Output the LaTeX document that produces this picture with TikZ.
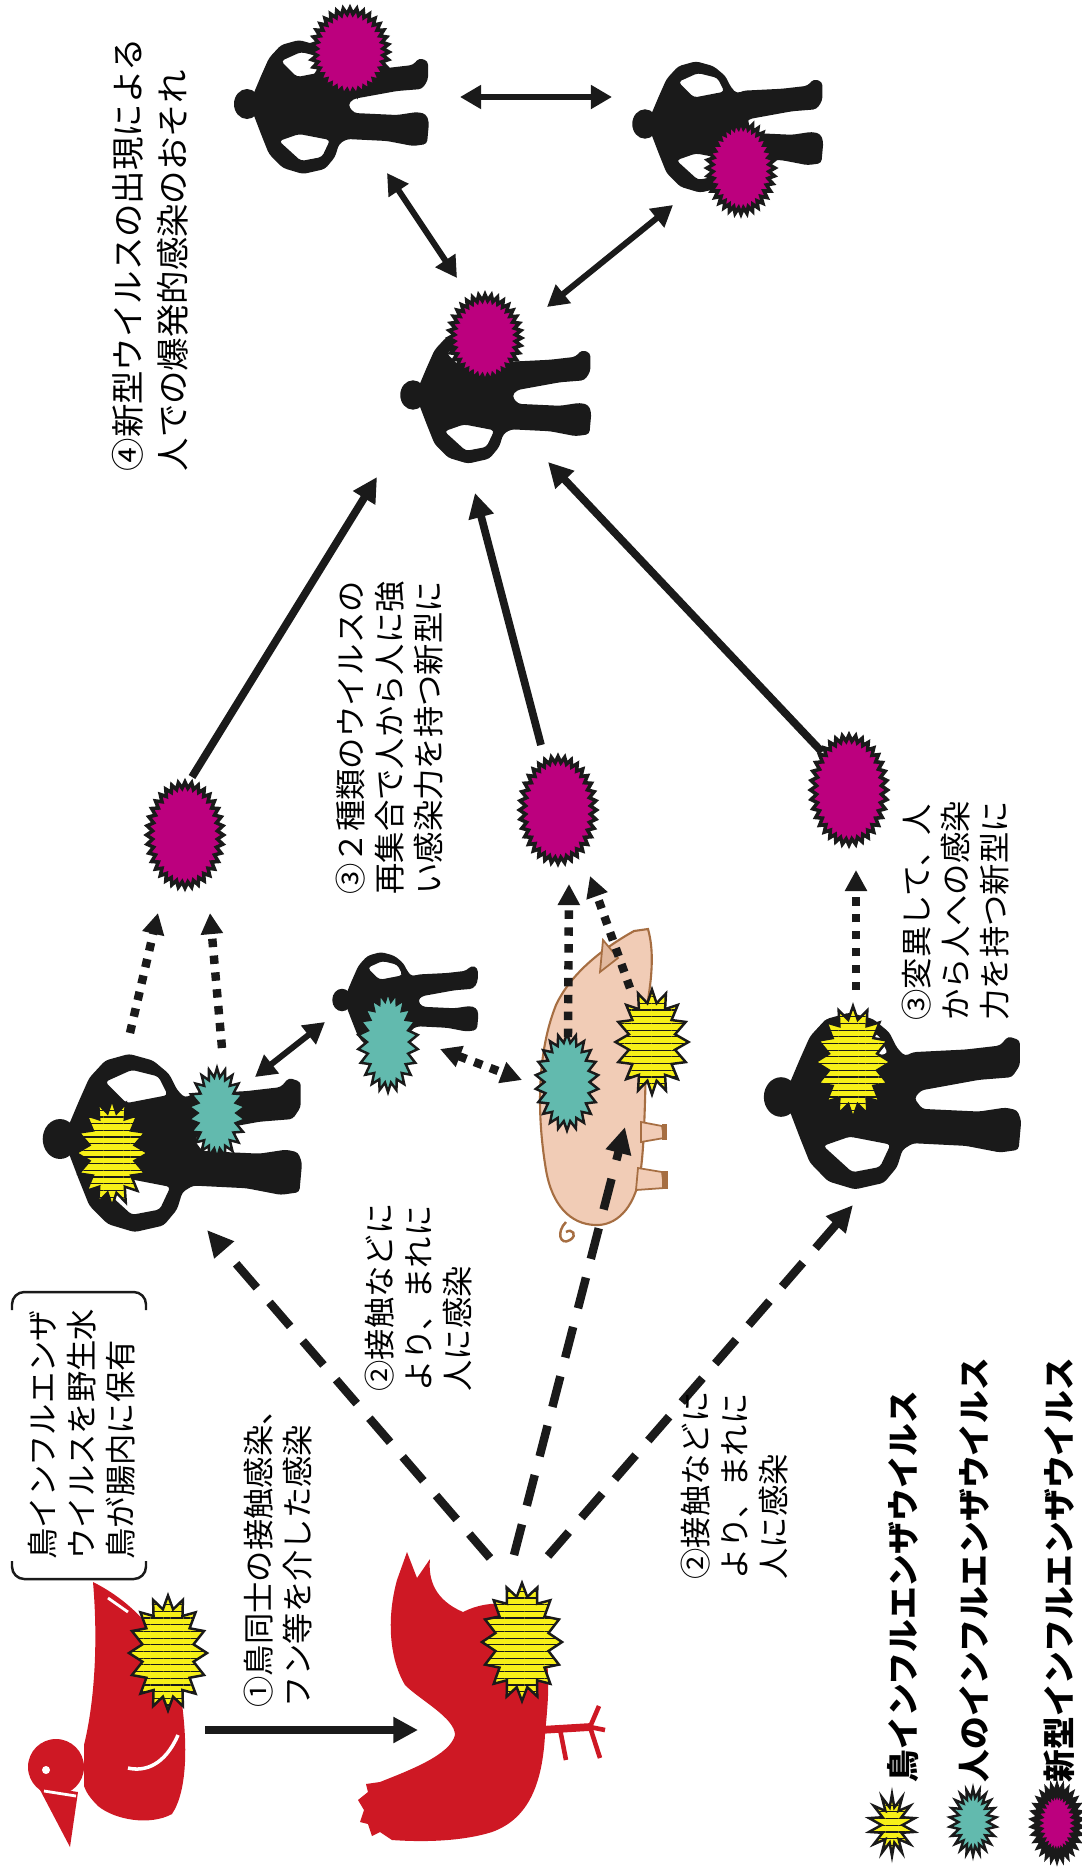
\documentclass[tikz,border=0pt]{standalone}
\usepackage{fontspec}
\setmainfont{Noto Sans CJK JP}
\usetikzlibrary{arrows.meta, shapes.symbols, patterns.meta}

\definecolor{birdred}{RGB}{206,24,36}
\definecolor{flucyan}{RGB}{98,186,174}
\definecolor{fluyellow}{RGB}{247,240,24}
\definecolor{flumagenta}{RGB}{188,0,126}
\definecolor{pigskin}{RGB}{241,204,182}
\definecolor{pigline}{RGB}{166,110,66}
\definecolor{ink}{RGB}{26,26,26}

% walking figure, head at the origin, feet towards +x
\tikzset{
  man/.pic={
    \fill [ink] (0,0) ellipse [x radius=13, y radius=15];
    \fill [ink, even odd rule, rounded corners=1pt]
      (6,-9) -- (14,-28) -- (22,-46) -- (34,-59) -- (52,-64) -- (70,-59)
      -- (82,-49) -- (88,-37) -- (94,-31) -- (100,-34) -- (140,-36)
      -- (166,-39) -- (172,-46) -- (181,-43) -- (181,-24) -- (175,-15)
      -- (150,-13) -- (106,-5) -- (101,1) -- (107,9) -- (150,11)
      -- (170,8) -- (179,10) -- (182,18) -- (180,40) -- (166,42)
      -- (140,37) -- (100,35) -- (92,40) -- (88,53) -- (78,65)
      -- (56,70) -- (36,64) -- (22,50) -- (14,30) -- (6,9) -- cycle
      (34,-43) -- (54,-52) -- (74,-47) -- (81,-33) -- (50,-27) -- cycle
      (32,37) -- (52,30) -- (83,36) -- (75,53) -- (54,57) -- cycle;
  }
}

\begin{document}
\begin{tikzpicture} [ x=0.01cm, y=-0.01cm
                    , font=\fontsize{8.9}{11.2}\selectfont
                    , note/.style={rotate=90, anchor=north west, align=left, inner sep=0pt}
                    , lead/.style={note, font=\fontsize{9.5}{12.8}\selectfont}
                    , legendtext/.style={note, font=\fontsize{9.3}{11}\selectfont\bfseries}
                    , germ/.style={starburst, random starburst=0, draw=ink, inner sep=0pt}
                    , bird/.style={germ, starburst points=16, starburst point height=0.13cm, line width=0.7pt, preaction={fill=fluyellow}, pattern={Lines[angle=0, distance=1.9pt, line width=0.35pt]}, pattern color=ink}
                    , human/.style={germ, starburst points=22, starburst point height=0.09cm, line width=0.7pt, fill=flucyan}
                    , novel/.style={germ, starburst points=36, starburst point height=0.06cm, line width=1pt, fill=flumagenta}
                    , spread/.style={ink, line width=2.2pt, -{Triangle[length=7pt, width=7pt]}}
                    , link/.style={ink, line width=1.7pt, >={Triangle[length=6pt, width=6.5pt]}, <->}
                    , hop/.style={ink, line width=2.4pt, dash pattern=on 2.4pt off 2.4pt, >={Triangle[length=6pt, width=6pt]}, ->}
                    , jump/.style={ink, line width=2.4pt, dash pattern=on 9pt off 5.5pt, -{Triangle[length=7.5pt, width=7pt]}}
                    ]

  \fill [white] (0,0) rectangle (1082,1872);
  \useasboundingbox (0,0) rectangle (1082,1872);

  % --- people ----------------------------------------------------------------
  \pic (manA) at (247,104) {man};
  \pic [scale=0.98] (manB) at (645,124) {man};
  \pic [scale=0.98] (manC) at (413,395) {man};
  \pic [scale=1.33] (manD) at (60,1139) {man};
  \pic [scale=0.75] (manE) at (342,1000) {man};
  \pic [scale=1.32] (manF) at (781,1097) {man};
  % ---------------------------------------------------------------------------

  % --- wild duck and hen -----------------------------------------------------
  \fill [birdred] (93,1582) .. controls (125,1598) and (165,1630) .. (180,1690)
        .. controls (188,1740) and (188,1790) .. (172,1814)
        .. controls (150,1826) and (115,1820) .. (98,1806)
        .. controls (90,1798) and (86,1792) .. (84,1786)
        -- (84,1745)
        .. controls (95,1700) and (98,1640) .. cycle;
  \fill [birdred] (56,1767) circle [radius=28];
  \fill [birdred] (38,1786) -- (70,1847) -- (78,1792) -- cycle;
  \fill [white] (46,1770) circle [radius=4];
  \draw [white, line width=0.8pt] (44,1791) -- (76,1796);
  \draw [white, line width=1pt] (178,1735) .. controls (165,1765) and (145,1772) .. (128,1768);
  \draw [white, line width=0.8pt] (108,1598) -- (128,1612);

  \fill [birdred] (407,1552) -- (417,1578) -- (430,1559)
        .. controls (428,1580) and (435,1600) .. (463,1612)
        .. controls (490,1598) and (530,1600) .. (541,1630)
        .. controls (552,1670) and (548,1700) .. (545,1735)
        .. controls (542,1790) and (525,1820) .. (492,1832)
        .. controls (460,1842) and (420,1842) .. (392,1840)
        -- (380,1832) -- (372,1836) -- (368,1824) -- (360,1822) -- (364,1810)
        -- (358,1800) -- (368,1792) -- (366,1784) -- (380,1782)
        .. controls (410,1770) and (450,1755) .. (455,1735)
        .. controls (455,1718) and (420,1700) .. (405,1685)
        .. controls (390,1660) and (386,1620) .. (397,1580)
        -- cycle;
  \draw [birdred, line width=2.2pt] (540,1730) -- (590,1727);
  \draw [birdred, line width=1.3pt] (590,1727) -- (599,1706)
                                    (590,1727) -- (605,1730)
                                    (590,1727) -- (600,1758)
                                    (560,1729) -- (566,1760);
  % ---------------------------------------------------------------------------

  % --- pig -------------------------------------------------------------------
  \filldraw [fill=pigskin, draw=pigline, line width=0.6pt]
        (634,931) -- (648,929) .. controls (654,950) and (652,975) .. (648,1000)
        .. controls (645,1060) and (646,1140) .. (640,1175)
        .. controls (634,1210) and (615,1226) .. (595,1225)
        .. controls (570,1224) and (552,1205) .. (546,1170)
        .. controls (536,1110) and (538,1050) .. (556,1005)
        .. controls (570,975) and (600,950) .. cycle;
  \filldraw [fill=pigskin!80!pigline, draw=pigline, line width=0.5pt] (600,972) -- (603,940) -- (618,958) -- cycle;
  \filldraw [fill=pigskin, draw=pigline, line width=0.5pt] (641,1122) -- (662,1126) -- (664,1138) -- (641,1142) -- cycle;
  \filldraw [fill=pigskin, draw=pigline, line width=0.5pt] (638,1168) -- (662,1172) -- (664,1188) -- (636,1190) -- cycle;
  \fill [pigline] (662,1124) rectangle (667,1140);
  \fill [pigline] (662,1171) rectangle (668,1189);
  \draw [pigline, line width=0.7pt] (566,1222) .. controls (556,1232) and (560,1246) .. (570,1240)
        .. controls (578,1235) and (572,1228) .. (566,1232);
  % ---------------------------------------------------------------------------

  % --- viruses ---------------------------------------------------------------
  \node [ novel
        , minimum width=0.78cm
        , minimum height=0.88cm
        ]
        (fluA) at (350,52) {};
  \node [ novel
        , minimum width=0.68cm
        , minimum height=0.92cm
        ]
        (fluB) at (741,168) {};
  \node [ novel
        , minimum width=0.73cm
        , minimum height=0.87cm
        ]
        (fluC) at (485,338) {};

  \node [ novel
        , minimum width=0.77cm
        , minimum height=1.06cm
        ]
        (newA) at (185,835) {};
  \node [ novel
        , minimum width=0.77cm
        , minimum height=1.07cm
        ]
        (newB) at (558,810) {};
  \node [ novel
        , minimum width=0.77cm
        , minimum height=1.1cm
        ]
        (newC) at (849,790) {};

  \node [ bird
        , minimum width=0.72cm
        , minimum height=1.07cm
        ]
        (birdD) at (112,1153) {};
  \node [ human
        , minimum width=0.57cm
        , minimum height=0.9cm
        ]
        (humanD) at (217,1113) {};
  \node [ human
        , minimum width=0.6cm
        , minimum height=1cm
        ]
        (humanE) at (388,1042) {};
  \node [ human
        , minimum width=0.63cm
        , minimum height=0.97cm
        ]
        (humanPig) at (567,1082) {};
  \node [ bird
        , minimum width=0.73cm
        , minimum height=1.05cm
        ]
        (birdPig) at (652,1042) {};
  \node [ bird
        , minimum width=0.75cm
        , minimum height=1.12cm
        ]
        (birdF) at (853,1062) {};
  \node [ bird
        , minimum width=0.78cm
        , minimum height=1.15cm
        ]
        (birdDuck) at (168,1653) {};
  \node [ bird
        , minimum width=0.8cm
        , minimum height=1.18cm
        ]
        (birdHen) at (522,1642) {};
  % ---------------------------------------------------------------------------

  % --- arrow ends ------------------------------------------------------------
  \coordinate (duckout) at (205,1730);
  \coordinate (henin)   at (418,1730);
  \coordinate (henD)    at (490,1558);
  \coordinate (henP)    at (514,1555);
  \coordinate (henF)    at (548,1556);
  \coordinate (Din)     at (207,1230);
  \coordinate (pigin)   at (625,1127);
  \coordinate (Fin)     at (853,1205);
  \coordinate (Dup1)    at (130,1033);
  \coordinate (Dup2)    at (222,1048);
  \coordinate (newAin1) at (158,913);
  \coordinate (newAin2) at (210,913);
  \coordinate (Dlink)   at (255,1077);
  \coordinate (Elink)   at (325,1022);
  \coordinate (Eout)    at (440,1049);
  \coordinate (pigout)  at (522,1080);
  \coordinate (pigup1)  at (568,1037);
  \coordinate (pigup2)  at (630,988);
  \coordinate (newBin1) at (569,884);
  \coordinate (newBin2) at (590,876);
  \coordinate (Fup)     at (856,990);
  \coordinate (newCin)  at (856,870);
  \coordinate (newAout) at (192,777);
  \coordinate (newBout) at (541,745);
  \coordinate (newCout) at (822,752);
  \coordinate (Cin1)    at (377,477);
  \coordinate (Cin2)    at (475,493);
  \coordinate (Cin3)    at (548,462);
  \coordinate (Aright)  at (460,97);
  \coordinate (Bleft)   at (612,97);
  \coordinate (Adown)   at (387,173);
  \coordinate (Cup)     at (457,278);
  \coordinate (Bdown)   at (673,205);
  \coordinate (Cright)  at (547,307);
  % ---------------------------------------------------------------------------

  % --- arrows ----------------------------------------------------------------
  \draw [spread] (duckout) -- (henin);
  \draw [jump] (henD) -- (Din);
  \draw [jump] (henP) -- (pigin);
  \draw [jump] (henF) -- (Fin);

  \draw [hop] (Dup1) -- (newAin1);
  \draw [hop] (Dup2) -- (newAin2);
  \draw [link] (Dlink) -- (Elink);
  \draw [hop, <->] (Eout) -- (pigout);
  \draw [hop] (pigup1) -- (newBin1);
  \draw [hop] (pigup2) -- (newBin2);
  \draw [hop] (Fup) -- (newCin);

  \draw [spread] (newAout) -- (Cin1);
  \draw [spread] (newBout) -- (Cin2);
  \draw [spread] (newCout) -- (Cin3);

  \draw [link] (Aright) -- (Bleft);
  \draw [link] (Adown) -- (Cup);
  \draw [link] (Bdown) -- (Cright);
  % ---------------------------------------------------------------------------

  % --- captions --------------------------------------------------------------
  \draw [ink, line width=0.7pt, rounded corners=3.5pt] (12,1310) -- (12,1292) -- (146,1292) -- (146,1310);
  \draw [ink, line width=0.7pt, rounded corners=3.5pt] (12,1561) -- (12,1579) -- (146,1579) -- (146,1561);

  \node [ lead ] (outbreak) at (112,472) {④新型ウイルスの出現による\\人での爆発的感染のおそれ};
  \node [ note ] (carrier) at (27,1560) {鳥インフルエンザ\\ウイルスを野生水\\鳥が腸内に保有};
  \node [ note ] (birdtobird) at (243,1708) {①鳥同士の接触感染、\\フン等を介した感染};
  \node [ note ] (contactA) at (364,1392) {②接触などに\\より、まれに\\人に感染};
  \node [ note ] (contactB) at (680,1580) {②接触などに\\より、まれに\\人に感染};
  \node [ note ] (reassort) at (335,895) {③２種類のウイルスの\\再集合で人から人に強\\い感染力を持つ新型に};
  \node [ note ] (mutate) at (901,1021) {③変異して、人\\から人への感染\\力を持つ新型に};
  % ---------------------------------------------------------------------------

  % --- legend ----------------------------------------------------------------
  \node [ bird
        , starburst points=14
        , minimum width=0.47cm
        , minimum height=0.62cm
        ]
        (keyBirdMark) at (892,1825) {};
  \node [ human
        , minimum width=0.47cm
        , minimum height=0.67cm
        ]
        (keyHumanMark) at (973,1822) {};
  \node [ novel
        , starburst points=30
        , line width=1.4pt
        , minimum width=0.47cm
        , minimum height=0.7cm
        ]
        (keyNovelMark) at (1057,1823) {};

  \node [ legendtext ] (keyBird) at (887,1783) {鳥インフルエンザウイルス};
  \node [ legendtext ] (keyHuman) at (958,1783) {人のインフルエンザウイルス};
  \node [ legendtext ] (keyNovel) at (1043,1783) {新型インフルエンザウイルス};
  % ---------------------------------------------------------------------------
\end{tikzpicture}
\end{document}
